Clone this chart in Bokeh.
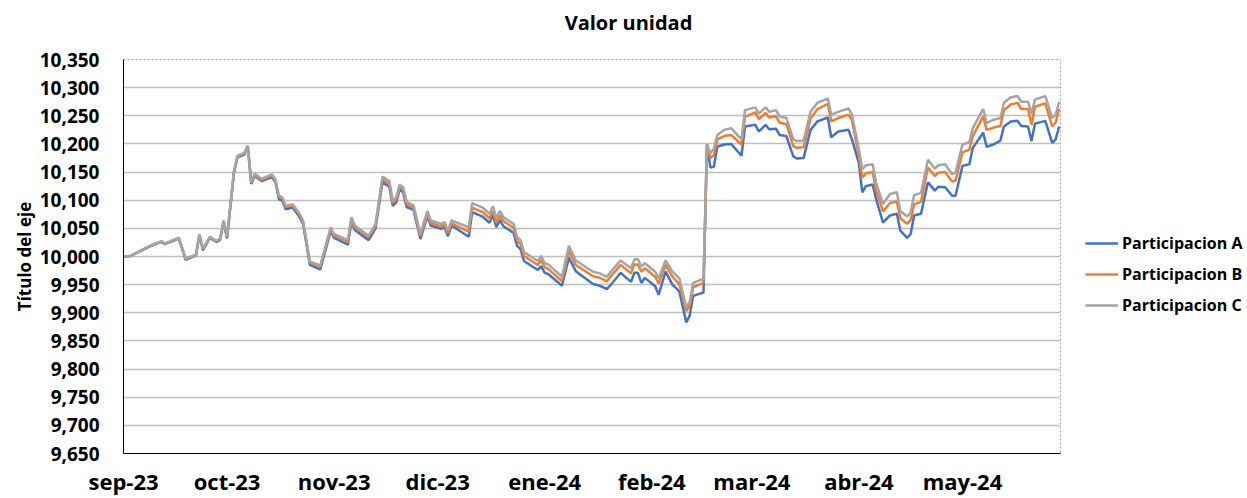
import pandas as pd
from bokeh.plotting import figure
from bokeh.layouts import column, row
from bokeh.models import Range1d, FixedTicker, NumeralTickFormatter, Legend, LegendItem
from bokeh.core.properties import value
from bokeh.embed import file_html
from bokeh.resources import INLINE

# ---------------- data ----------------
dates = [
    "2023-09-01", "2023-09-03", "2023-09-09", "2023-09-12", "2023-09-13", "2023-09-17", "2023-09-19",
    "2023-09-22", "2023-09-23", "2023-09-24", "2023-09-26", "2023-09-28", "2023-09-29", "2023-09-30",
    "2023-10-01", "2023-10-03", "2023-10-04", "2023-10-06", "2023-10-07", "2023-10-08", "2023-10-09",
    "2023-10-11", "2023-10-14", "2023-10-15", "2023-10-16", "2023-10-17", "2023-10-18", "2023-10-20",
    "2023-10-22", "2023-10-23", "2023-10-25", "2023-10-28", "2023-10-31", "2023-11-01", "2023-11-05",
    "2023-11-06", "2023-11-07", "2023-11-11", "2023-11-13", "2023-11-15", "2023-11-17", "2023-11-18",
    "2023-11-19", "2023-11-20", "2023-11-21", "2023-11-22", "2023-11-24", "2023-11-26", "2023-11-28",
    "2023-11-29", "2023-12-02", "2023-12-03", "2023-12-04", "2023-12-05", "2023-12-10", "2023-12-11",
    "2023-12-14", "2023-12-16", "2023-12-17", "2023-12-18", "2023-12-19", "2023-12-20", "2023-12-23",
    "2023-12-24", "2023-12-25", "2023-12-26", "2023-12-30", "2023-12-31", "2024-01-01", "2024-01-02",
    "2024-01-06", "2024-01-08", "2024-01-10", "2024-01-15", "2024-01-17", "2024-01-19", "2024-01-21",
    "2024-01-23", "2024-01-26", "2024-01-27", "2024-01-28", "2024-01-29", "2024-01-30", "2024-02-02",
    "2024-02-03", "2024-02-05", "2024-02-07", "2024-02-09", "2024-02-11", "2024-02-12", "2024-02-13",
    "2024-02-15", "2024-02-16", "2024-02-17", "2024-02-18", "2024-02-19", "2024-02-20", "2024-02-22",
    "2024-02-24", "2024-02-27", "2024-02-28", "2024-03-02", "2024-03-03", "2024-03-05", "2024-03-06",
    "2024-03-08", "2024-03-09", "2024-03-11", "2024-03-13", "2024-03-14", "2024-03-16", "2024-03-18",
    "2024-03-20", "2024-03-23", "2024-03-24", "2024-03-26", "2024-03-29", "2024-03-30", "2024-04-01",
    "2024-04-02", "2024-04-03", "2024-04-05", "2024-04-06", "2024-04-08", "2024-04-10", "2024-04-12",
    "2024-04-13", "2024-04-15", "2024-04-16", "2024-04-17", "2024-04-19", "2024-04-21", "2024-04-23",
    "2024-04-24", "2024-04-26", "2024-04-28", "2024-04-29", "2024-05-01", "2024-05-03", "2024-05-04",
    "2024-05-07", "2024-05-08", "2024-05-10", "2024-05-12", "2024-05-13", "2024-05-15", "2024-05-17",
    "2024-05-18", "2024-05-20", "2024-05-21", "2024-05-22", "2024-05-25", "2024-05-27", "2024-05-28",
    "2024-05-29",
]

participacion_c = [
    10000, 10001, 10020, 10027, 10023, 10033, 9996,
    10003, 10040, 10014, 10035, 10028, 10032, 10064,
    10036, 10152, 10179, 10184, 10197, 10133, 10147,
    10138, 10146, 10137, 10108, 10105, 10090, 10093,
    10076, 10064, 9991, 9984, 10052, 10040, 10029,
    10070, 10055, 10037, 10058, 10142, 10134, 10099,
    10105, 10128, 10123, 10097, 10091, 10040, 10081,
    10064, 10058, 10061, 10046, 10064, 10052, 10095,
    10087, 10076, 10089, 10068, 10081, 10070, 10058,
    10035, 10029, 10008, 9992, 10001, 9988, 9986,
    9964, 10019, 9993, 9973, 9970, 9964, 9979,
    9993, 9979, 9995, 9995, 9982, 9988, 9973,
    9961, 9993, 9973, 9961, 9910, 9920, 9953,
    9958, 9960, 10199, 10184, 10191, 10216, 10225,
    10228, 10208, 10260, 10265, 10254, 10265, 10257,
    10260, 10249, 10246, 10208, 10205, 10206, 10257,
    10273, 10281, 10252, 10257, 10263, 10252, 10190,
    10155, 10162, 10164, 10131, 10093, 10111, 10114,
    10081, 10071, 10078, 10109, 10113, 10172, 10156,
    10162, 10164, 10146, 10149, 10199, 10203, 10228,
    10262, 10237, 10243, 10246, 10273, 10283, 10285,
    10275, 10275, 10254, 10279, 10285, 10246, 10252,
    10275,
]

participacion_b = [
    10000, 10001, 10020, 10027, 10023, 10033, 9996,
    10003, 10039, 10013, 10034, 10027, 10031, 10063,
    10035, 10151, 10178, 10183, 10196, 10131, 10145,
    10136, 10144, 10135, 10106, 10103, 10088, 10091,
    10074, 10062, 9989, 9982, 10049, 10037, 10026,
    10066, 10052, 10034, 10055, 10137, 10129, 10095,
    10101, 10124, 10119, 10093, 10087, 10036, 10077,
    10060, 10053, 10056, 10041, 10059, 10044, 10087,
    10079, 10068, 10081, 10060, 10073, 10063, 10051,
    10028, 10022, 10001, 9985, 9994, 9981, 9978,
    9956, 10011, 9985, 9965, 9962, 9956, 9971,
    9985, 9970, 9986, 9986, 9973, 9979, 9964,
    9952, 9985, 9964, 9951, 9903, 9912, 9945,
    9951, 9953, 10199, 10175, 10180, 10208, 10214,
    10216, 10199, 10248, 10256, 10244, 10255, 10247,
    10249, 10238, 10235, 10196, 10193, 10194, 10245,
    10262, 10271, 10240, 10246, 10252, 10242, 10178,
    10140, 10148, 10150, 10117, 10080, 10095, 10098,
    10068, 10058, 10065, 10093, 10097, 10158, 10143,
    10149, 10150, 10133, 10135, 10185, 10190, 10214,
    10249, 10225, 10229, 10232, 10260, 10270, 10273,
    10262, 10262, 10234, 10266, 10272, 10231, 10238,
    10262,
]

participacion_a = [
    10000, 10001, 10019, 10026, 10022, 10032, 9994,
    10002, 10038, 10011, 10033, 10026, 10030, 10061,
    10032, 10149, 10176, 10181, 10195, 10129, 10143,
    10134, 10141, 10132, 10102, 10099, 10084, 10087,
    10070, 10058, 9985, 9977, 10045, 10033, 10021,
    10062, 10047, 10029, 10050, 10132, 10124, 10090,
    10096, 10119, 10114, 10088, 10083, 10031, 10072,
    10055, 10049, 10052, 10036, 10055, 10035, 10079,
    10071, 10060, 10073, 10052, 10065, 10054, 10042,
    10019, 10013, 9992, 9976, 9983, 9971, 9969,
    9948, 9998, 9974, 9951, 9948, 9942, 9956,
    9971, 9955, 9971, 9971, 9953, 9962, 9947,
    9932, 9973, 9950, 9938, 9883, 9895, 9930,
    9934, 9936, 10199, 10158, 10160, 10195, 10199,
    10200, 10179, 10231, 10234, 10222, 10234, 10226,
    10227, 10216, 10214, 10178, 10174, 10175, 10225,
    10240, 10247, 10212, 10222, 10225, 10208, 10166,
    10114, 10125, 10128, 10102, 10060, 10073, 10076,
    10046, 10033, 10040, 10073, 10076, 10132, 10117,
    10124, 10123, 10108, 10108, 10161, 10164, 10193,
    10220, 10195, 10199, 10206, 10231, 10240, 10241,
    10232, 10231, 10205, 10236, 10241, 10202, 10208,
    10231,
]

chart_title = "Valor unidad"
y_axis_title = "Título del eje"
series_names = ["Participacion A", "Participacion B", "Participacion C"]
month_ticks = ["2023-09-01", "2023-10-01", "2023-11-01", "2023-12-01", "2024-01-01",
               "2024-02-01", "2024-03-01", "2024-04-01", "2024-05-01"]
month_labels = ["sep-23", "oct-23", "nov-23", "dic-23", "ene-24", "feb-24", "mar-24", "abr-24", "may-24"]
y_ticks = list(range(9650, 10351, 50))
colors = ["#4472C4", "#ED7D31", "#A5A5A5"]

# ---------------- layout sizes ----------------
FONT = "Open Sans"
TITLE_H = 40
MAIN_W, MAIN_H = 1062, 458
LEG_W = 183

# ---------------- title strip ----------------
tfig = figure(width=MAIN_W + LEG_W, height=TITLE_H, x_range=Range1d(0, MAIN_W + LEG_W),
              y_range=Range1d(0, TITLE_H), x_axis_location=None, y_axis_location=None,
              output_backend="svg", toolbar_location=None, min_border=0)
tfig.outline_line_color = None
tfig.grid.visible = False
tfig.text(x=[628], y=[TITLE_H - 22], text=[chart_title], text_font=value(FONT),
          text_font_style="bold", text_font_size="20px", text_color="#000000",
          text_align="center", text_baseline="middle")

# ---------------- main chart ----------------
x = pd.to_datetime(dates)
x_start = pd.Timestamp("2023-09-01")
x_end = x_start + pd.Timedelta(hours=271.4 * 24)

p = figure(width=MAIN_W, height=MAIN_H, x_axis_type="datetime",
           x_range=Range1d(x_start, x_end), y_range=Range1d(9650, 10350),
           output_backend="svg", toolbar_location=None,
           min_border_left=123, min_border_right=2, min_border_top=19, min_border_bottom=38)

p.outline_line_color = "#a6a6a6"
p.outline_line_dash = "2 2"
p.outline_line_width = 1

p.xgrid.visible = False
p.ygrid.grid_line_color = "#bfbfbf"
p.ygrid.grid_line_width = 1.5

p.yaxis.ticker = FixedTicker(ticks=y_ticks)
p.yaxis.formatter = NumeralTickFormatter(format="0,0")
p.yaxis.axis_label = y_axis_title
p.yaxis.axis_label_text_font = FONT
p.yaxis.axis_label_text_font_style = "bold"
p.yaxis.axis_label_text_font_size = "17px"
p.yaxis.axis_label_text_color = "#000000"
p.yaxis.axis_label_standoff = 1
p.yaxis.major_label_standoff = 18

tick_ms = [pd.Timestamp(t).value / 1e6 for t in month_ticks]
p.xaxis.ticker = FixedTicker(ticks=tick_ms)
p.xaxis.major_label_overrides = {ms: lab for ms, lab in zip(tick_ms, month_labels)}
p.xaxis.major_label_standoff = 6

for ax in (p.xaxis[0], p.yaxis[0]):
    ax.axis_line_color = "#000000"
    ax.axis_line_width = 1
    ax.major_tick_line_color = None
    ax.minor_tick_line_color = None
    ax.major_label_text_font = FONT
    ax.major_label_text_font_style = "bold"
    ax.major_label_text_color = "#000000"
p.yaxis.major_label_text_font_size = "19px"
p.xaxis.major_label_text_font_size = "22px"

for vals, col in zip([participacion_a, participacion_b, participacion_c], colors):
    p.line(x, vals, line_color=col, line_width=2.5)

# ---------------- legend strip ----------------
lfig = figure(width=LEG_W, height=MAIN_H, x_range=Range1d(0, 1), y_range=Range1d(0, 1),
              x_axis_location=None, y_axis_location=None,
              output_backend="svg", toolbar_location=None, min_border=0)
lfig.outline_line_color = None
lfig.grid.visible = False
# legend swatches: lines kept outside the visible range of this strip
leg_renderers = [lfig.line(x=[5, 6], y=[5, 6], line_color=c, line_width=2.5) for c in colors]
legend = Legend(items=[LegendItem(label=n, renderers=[r]) for n, r in zip(series_names, leg_renderers)],
                location=(23, 137), orientation="vertical",
                glyph_width=33, glyph_height=20, label_height=20, spacing=9,
                padding=0, margin=0, border_line_color=None, background_fill_alpha=0,
                label_text_font=FONT, label_text_font_style="bold", label_text_font_size="16px",
                label_text_color="#000000", label_standoff=4)
lfig.add_layout(legend)

layout = column(tfig, row(p, lfig, spacing=0), spacing=0)
open("out.html", "w").write(file_html(layout, INLINE))
